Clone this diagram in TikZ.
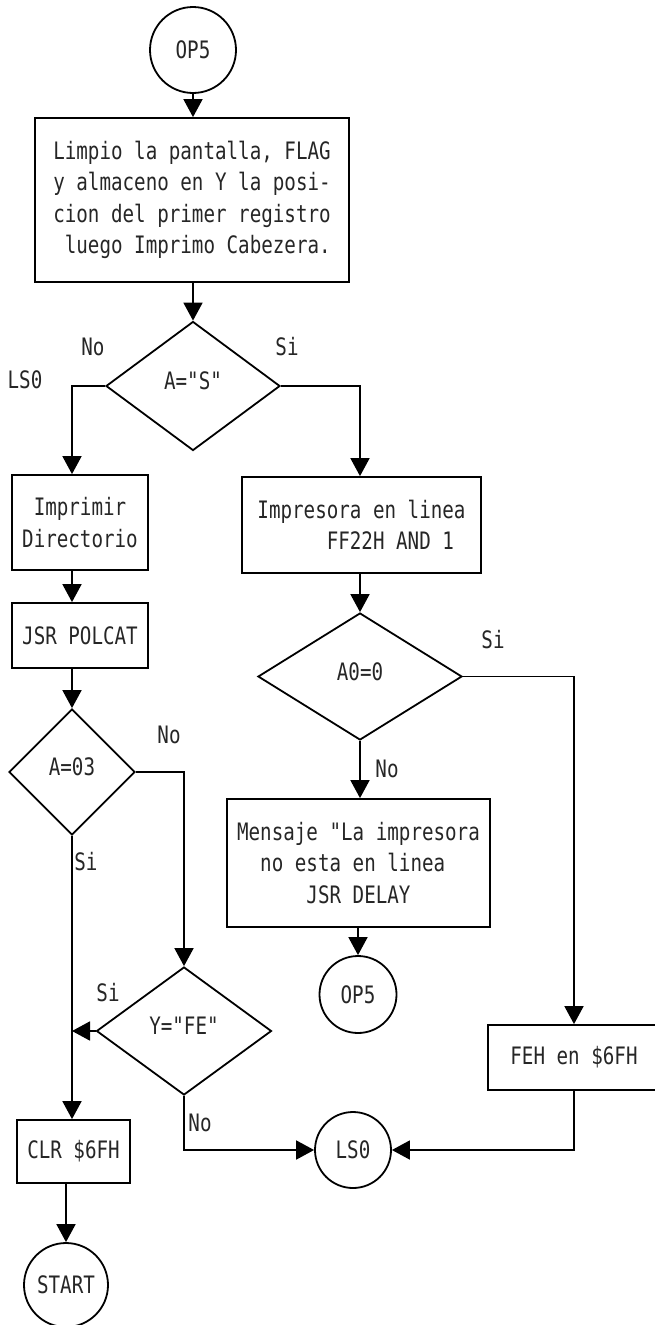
\documentclass[tikz,border=0pt]{standalone}
\usepackage{fontspec}
\newfontfamily\plotter{DejaVu Sans Mono}[Ligatures=TeXOff, FakeStretch=0.8]
\usetikzlibrary{arrows.meta,shapes.geometric}
\begin{document}
\begin{tikzpicture}[x=1pt,y=-1pt,
  every node/.style={font=\plotter\fontsize{24pt}{31.5pt}\selectfont, text=black!85},
  arr/.style={line width=1.8pt, -{Triangle[width=19pt,length=18pt]}},
  box/.style={draw, line width=1.8pt, rectangle, inner sep=0pt},
  dec/.style={draw, line width=1.8pt, diamond, inner sep=0pt},
  dtext/.style={label={[inner sep=0pt, yshift=5pt]center:#1}},
  term/.style={draw, line width=1.8pt, circle, inner sep=0pt},
  lbl/.style={inner sep=0pt}
]
\clip (0,0) rectangle (655,1325);
\fill[white] (0,0) rectangle (655,1325);

% nodes
\node[term, minimum size=86pt] (op5a) at (193,50) {OP5};
\node[box, minimum width=314pt, minimum height=164pt, align=left] (b1) at (192,200)
  {Limpio la pantalla, FLAG\\y almaceno en Y la posi-\\cion del primer registro\\\phantom{x}luego Imprimo Cabezera.};
\node[dec, minimum width=174pt, minimum height=129pt, dtext={A="S"}] (d1) at (193,386) {};
\node[box, minimum width=136pt, minimum height=95pt, align=center] (imp) at (80,522.5) {Imprimir\\Directorio};
\node[box, minimum width=239pt, minimum height=96pt, align=left] (imp2) at (361.5,525)
  {Impresora en linea\\\phantom{xxxxxx}FF22H AND 1};
\node[box, minimum width=136pt, minimum height=65pt] (jsr) at (80,635.5) {JSR POLCAT};
\node[dec, minimum width=204pt, minimum height=127pt, dtext={A0=0}] (d2) at (360,676.5) {};
\node[dec, minimum width=126pt, minimum height=126pt, dtext={A=03}] (d3) at (72,772) {};
\node[box, minimum width=263pt, minimum height=128pt, align=left] (msg) at (358.5,863)
  {Mensaje "La impresora\\\phantom{xx}no esta en linea\\\phantom{xxxxxx}JSR DELAY};
\node[term, minimum size=77pt] (op5b) at (358,994.5) {OP5};
\node[dec, minimum width=175pt, minimum height=128pt, dtext={Y="FE"}] (d4) at (184,1031) {};
\node[box, minimum width=172pt, minimum height=65pt] (feh) at (574,1057.5) {FEH en \$6FH};
\node[box, minimum width=113pt, minimum height=63pt] (clr) at (73.5,1151.5) {CLR \$6FH};
\node[term, minimum size=76pt] (ls0) at (353,1150) {LS0};
\node[term, minimum size=84pt] (start) at (66,1285) {START};

% labels
\node[lbl] (lno1) at (93,347) {No};
\node[lbl] (lsi1) at (287,347) {Si};
\node[lbl] (lls0) at (25,380) {LS0};
\node[lbl] (lsi2) at (493,640) {Si};
\node[lbl] (lno2) at (169,735) {No};
\node[lbl] (lno3) at (387,769) {No};
\node[lbl] (lsi3) at (86,862) {Si};
\node[lbl] (lsi4) at (108,993) {Si};
\node[lbl] (lno4) at (200,1123) {No};

% connectors
\draw[arr] (op5a.south) -- (op5a.south |- b1.north);
\draw[arr] (b1.south -| d1.north) -- (d1.north);
\draw[arr] (d1.west) -| (imp.north -| d3.north);
\draw[arr] (d1.east) -| (imp2.north -| d2.north);
\draw[arr] (imp.south -| d3.north) -- (jsr.north -| d3.north);
\draw[arr] (jsr.south -| d3.north) -- (d3.north);
\draw[arr] (imp2.south -| d2.north) -- (d2.north);
\draw[arr] (d2.south) -- (msg.north -| d2.south);
\draw[arr] (msg.south -| op5b.north) -- (op5b.north);
\draw[arr] (d2.east) -| (feh.north);
\draw[arr] (d3.east) -| (d4.north);
\draw[arr] (d3.south) -- (clr.north -| d3.south);
\draw[arr] (d4.west) -- (d4.west -| d3.south);
\draw[arr] (d4.south) |- (ls0.west);
\draw[arr] (feh.south) |- (ls0.east);
\draw[arr] (clr.south -| start.north) -- (start.north);
\end{tikzpicture}
\end{document}
